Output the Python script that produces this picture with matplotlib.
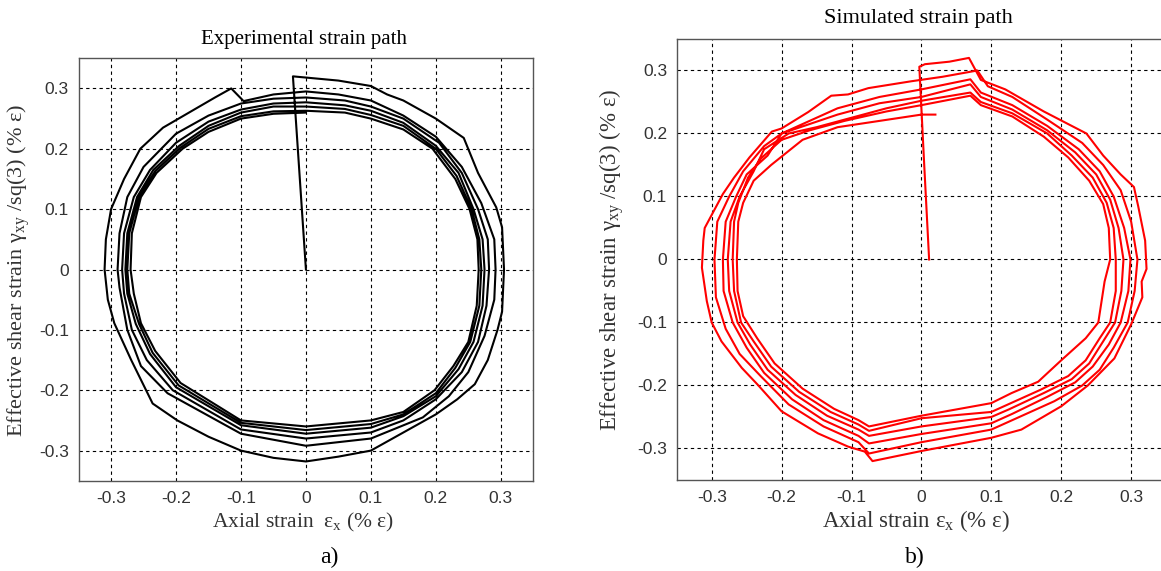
import numpy as np
import matplotlib.pyplot as plt

plt.rcParams['mathtext.fontset'] = 'custom'
plt.rcParams['mathtext.rm'] = 'Liberation Serif'
plt.rcParams['mathtext.it'] = 'Liberation Serif:italic'

# ---- data: experimental path (black) ----
exp_start = [(0.0, 0.0), (-0.01, 0.16), (-0.02, 0.32)]
exp_loop1 = [(-0.02, 0.32), (0.05, 0.313), (0.1, 0.304), (0.125, 0.29), (0.15, 0.28), (0.2, 0.25),
             (0.243, 0.218), (0.265, 0.16), (0.293, 0.103), (0.302, 0.07), (0.305, 0.0), (0.302, -0.07),
             (0.295, -0.1), (0.28, -0.15), (0.26, -0.19), (0.233, -0.215), (0.2, -0.24), (0.15, -0.27),
             (0.1, -0.3), (0.05, -0.31), (0.0, -0.318), (-0.05, -0.312), (-0.1, -0.3), (-0.15, -0.277),
             (-0.198, -0.25), (-0.236, -0.222), (-0.269, -0.15), (-0.295, -0.089), (-0.305, -0.05),
             (-0.31, 0.0), (-0.308, 0.05), (-0.3, 0.1), (-0.28, 0.15), (-0.255, 0.2), (-0.22, 0.235),
             (-0.18, 0.26), (-0.14, 0.285), (-0.115, 0.30), (-0.096, 0.279)]
exp_loop2 = [(-0.05, 0.29), (0.0, 0.295), (0.05, 0.29), (0.1, 0.28), (0.15, 0.255), (0.2, 0.22),
             (0.24, 0.17), (0.27, 0.11), (0.29, 0.05), (0.292, 0.0), (0.29, -0.05), (0.275, -0.11),
             (0.25, -0.17), (0.22, -0.21), (0.18, -0.245), (0.1, -0.28), (0.0, -0.292), (-0.1, -0.272),
             (-0.213, -0.205), (-0.254, -0.16), (-0.275, -0.1), (-0.287, -0.03), (-0.29, 0.0), (-0.287, 0.06),
             (-0.275, 0.12), (-0.25, 0.17), (-0.2, 0.225), (-0.15, 0.255), (-0.1, 0.275)]
exp_loop3 = [(-0.05, 0.283), (0.0, 0.285), (0.06, 0.28), (0.1, 0.27), (0.15, 0.25), (0.205, 0.21),
             (0.24, 0.16), (0.265, 0.1), (0.28, 0.05), (0.282, 0.0), (0.278, -0.06), (0.265, -0.12),
             (0.24, -0.17), (0.2, -0.215), (0.15, -0.25), (0.1, -0.27), (0.0, -0.28), (-0.1, -0.265),
             (-0.205, -0.2), (-0.245, -0.15), (-0.268, -0.1), (-0.28, -0.04), (-0.283, 0.0), (-0.28, 0.06),
             (-0.265, 0.12), (-0.24, 0.165), (-0.2, 0.21), (-0.15, 0.245), (-0.1, 0.265)]
exp_loop4 = [(-0.05, 0.275), (0.0, 0.277), (0.06, 0.272), (0.1, 0.263), (0.15, 0.243), (0.2, 0.205),
             (0.235, 0.16), (0.258, 0.1), (0.272, 0.05), (0.275, 0.0), (0.272, -0.06), (0.258, -0.12),
             (0.235, -0.165), (0.2, -0.21), (0.15, -0.243), (0.1, -0.262), (0.0, -0.272), (-0.1, -0.258),
             (-0.2, -0.195), (-0.24, -0.14), (-0.262, -0.09), (-0.275, -0.04), (-0.278, 0.0), (-0.275, 0.06),
             (-0.26, 0.12), (-0.235, 0.165), (-0.195, 0.205), (-0.15, 0.238), (-0.1, 0.26)]
exp_loop5 = [(-0.05, 0.27), (0.0, 0.27), (0.06, 0.266), (0.1, 0.256), (0.15, 0.238), (0.2, 0.2),
             (0.232, 0.155), (0.255, 0.1), (0.267, 0.05), (0.27, 0.0), (0.267, -0.06), (0.253, -0.12),
             (0.23, -0.163), (0.2, -0.205), (0.15, -0.24), (0.1, -0.256), (0.0, -0.266), (-0.1, -0.254),
             (-0.196, -0.192), (-0.236, -0.138), (-0.257, -0.09), (-0.272, -0.04), (-0.275, 0.0),
             (-0.272, 0.06), (-0.257, 0.12), (-0.232, 0.163), (-0.193, 0.202), (-0.15, 0.233), (-0.1, 0.254)]
exp_loop6 = [(-0.05, 0.262), (0.0, 0.263), (0.06, 0.26), (0.1, 0.25), (0.15, 0.232), (0.195, 0.2),
             (0.23, 0.15), (0.252, 0.1), (0.264, 0.05), (0.266, 0.0), (0.263, -0.06), (0.25, -0.12),
             (0.227, -0.16), (0.198, -0.2), (0.15, -0.236), (0.1, -0.25), (0.0, -0.26), (-0.1, -0.25),
             (-0.193, -0.188), (-0.232, -0.135), (-0.254, -0.089), (-0.265, -0.04), (-0.27, 0.0),
             (-0.268, 0.06), (-0.254, 0.12), (-0.23, 0.16), (-0.19, 0.2), (-0.15, 0.228), (-0.1, 0.25),
             (-0.05, 0.258), (0.0, 0.26)]

# ---- simulated path (red) ----
sim_start = [(0.011, 0.0), (0.004, 0.15), (-0.003, 0.306)]
sim_loop1 = [(-0.003, 0.306), (0.005, 0.31), (0.04, 0.314), (0.068, 0.32), (0.085, 0.285), (0.12, 0.27),
             (0.175, 0.235), (0.236, 0.2), (0.26, 0.165), (0.285, 0.135), (0.304, 0.115), (0.31, 0.085),
             (0.32, 0.03), (0.322, -0.015), (0.315, -0.035), (0.316, -0.06), (0.3, -0.103), (0.288, -0.13),
             (0.276, -0.157), (0.238, -0.2), (0.2, -0.233), (0.143, -0.27), (0.1, -0.283), (0.0, -0.304),
             (-0.07, -0.32), (-0.081, -0.305), (-0.105, -0.297), (-0.148, -0.276), (-0.2, -0.241),
             (-0.234, -0.199), (-0.257, -0.172), (-0.286, -0.13), (-0.3, -0.1), (-0.307, -0.066),
             (-0.314, -0.013), (-0.312, 0.03), (-0.31, 0.05), (-0.284, 0.104), (-0.268, 0.13), (-0.246, 0.162),
             (-0.214, 0.203), (-0.2, 0.208), (-0.162, 0.234), (-0.129, 0.26), (-0.105, 0.262), (-0.076, 0.272),
             (-0.014, 0.283)]
sim_loop2 = [(0.03, 0.29), (0.08, 0.30), (0.095, 0.275), (0.13, 0.258), (0.18, 0.222), (0.23, 0.185),
             (0.26, 0.15), (0.285, 0.11), (0.3, 0.06), (0.309, 0.0), (0.305, -0.05), (0.295, -0.1),
             (0.275, -0.14), (0.255, -0.175), (0.23, -0.2), (0.19, -0.225), (0.14, -0.25), (0.1, -0.27),
             (0.0, -0.29), (-0.075, -0.308), (-0.09, -0.29), (-0.14, -0.265), (-0.19, -0.23), (-0.23, -0.185),
             (-0.26, -0.15), (-0.28, -0.11), (-0.294, -0.06), (-0.296, 0.0), (-0.292, 0.06), (-0.275, 0.1),
             (-0.255, 0.14), (-0.225, 0.18), (-0.2, 0.2), (-0.17, 0.215), (-0.12, 0.24), (-0.06, 0.258),
             (0.0, 0.27)]
sim_loop3 = [(0.07, 0.286), (0.085, 0.265), (0.13, 0.245), (0.18, 0.212), (0.225, 0.175), (0.255, 0.14),
             (0.275, 0.1), (0.29, 0.05), (0.299, 0.0), (0.296, -0.05), (0.285, -0.1), (0.268, -0.135),
             (0.245, -0.17), (0.22, -0.195), (0.18, -0.218), (0.13, -0.245), (0.1, -0.26), (0.0, -0.277),
             (-0.075, -0.292), (-0.09, -0.28), (-0.14, -0.255), (-0.185, -0.222), (-0.225, -0.18),
             (-0.25, -0.14), (-0.27, -0.1), (-0.283, -0.05), (-0.284, 0.0), (-0.28, 0.06), (-0.265, 0.1),
             (-0.25, 0.135), (-0.22, 0.165), (-0.2, 0.2), (-0.16, 0.215), (-0.12, 0.23), (-0.06, 0.248),
             (0.0, 0.258)]
sim_loop4 = [(0.07, 0.278), (0.085, 0.258), (0.13, 0.238), (0.18, 0.205), (0.22, 0.17), (0.25, 0.135),
             (0.27, 0.095), (0.282, 0.05), (0.289, 0.0), (0.286, -0.05), (0.277, -0.1), (0.26, -0.13),
             (0.24, -0.165), (0.215, -0.19), (0.175, -0.212), (0.125, -0.238), (0.1, -0.25), (0.0, -0.265),
             (-0.075, -0.28), (-0.09, -0.27), (-0.135, -0.248), (-0.18, -0.215), (-0.22, -0.175),
             (-0.245, -0.135), (-0.263, -0.1), (-0.275, -0.05), (-0.277, 0.0), (-0.273, 0.06), (-0.26, 0.1),
             (-0.24, 0.14), (-0.225, 0.175), (-0.19, 0.2), (-0.15, 0.21), (-0.1, 0.225), (-0.05, 0.24),
             (0.0, 0.252)]
sim_loop5 = [(0.07, 0.265), (0.085, 0.25), (0.13, 0.232), (0.18, 0.2), (0.215, 0.165), (0.245, 0.13),
             (0.265, 0.09), (0.275, 0.05), (0.278, 0.0), (0.278, -0.05), (0.27, -0.1), (0.255, -0.125),
             (0.235, -0.16), (0.21, -0.185), (0.17, -0.207), (0.12, -0.232), (0.1, -0.242), (0.0, -0.252),
             (-0.075, -0.272), (-0.09, -0.262), (-0.13, -0.242), (-0.175, -0.21), (-0.215, -0.17),
             (-0.24, -0.13), (-0.258, -0.1), (-0.268, -0.05), (-0.27, 0.0), (-0.268, 0.06), (-0.262, 0.09),
             (-0.248, 0.13), (-0.23, 0.16), (-0.2, 0.19), (-0.16, 0.205), (-0.11, 0.22), (-0.05, 0.235),
             (0.0, 0.245)]
sim_loop6 = [(0.07, 0.26), (0.085, 0.245), (0.13, 0.227), (0.175, 0.195), (0.21, 0.162), (0.24, 0.125),
             (0.26, 0.088), (0.268, 0.05), (0.27, 0.0), (0.262, -0.035), (0.253, -0.1), (0.235, -0.125),
             (0.219, -0.141), (0.2, -0.16), (0.167, -0.194), (0.129, -0.212), (0.1, -0.228), (0.0, -0.248),
             (-0.075, -0.265), (-0.09, -0.255), (-0.125, -0.237), (-0.17, -0.205), (-0.21, -0.165),
             (-0.235, -0.125), (-0.255, -0.09), (-0.263, -0.05), (-0.264, 0.0), (-0.262, 0.06),
             (-0.255, 0.09), (-0.24, 0.125), (-0.215, 0.15), (-0.17, 0.19), (-0.12, 0.21), (-0.06, 0.22),
             (0.0, 0.23), (0.02, 0.23)]

tick_vals = [-0.3, -0.2, -0.1, 0, 0.1, 0.2, 0.3]
tick_labels = ['-0.3', '-0.2', '-0.1', '0', '0.1', '0.2', '0.3']

exp_path = np.array(exp_start + exp_loop1 + exp_loop2 + exp_loop3 + exp_loop4 + exp_loop5 + exp_loop6)
sim_path = np.array(sim_start + sim_loop1 + sim_loop2 + sim_loop3 + sim_loop4 + sim_loop5 + sim_loop6)

fig = plt.figure(figsize=(11.61, 5.71), dpi=100)
ax1 = fig.add_axes([0.0677, 0.158, 0.3916, 0.740])
ax2 = fig.add_axes([0.5829, 0.1594, 0.4215, 0.7723])

ax1.plot(exp_path[:, 0], exp_path[:, 1], color='black', lw=1.5)
ax2.plot(sim_path[:, 0], sim_path[:, 1], color='red', lw=1.5)

for ax in (ax1, ax2):
    ax.set_xlim(-0.35, 0.35)
    ax.set_ylim(-0.35, 0.35)
    ax.set_xticks(tick_vals)
    ax.set_xticklabels(tick_labels, family='Liberation Sans', fontsize=12.5, color='#333333')
    ax.set_yticks(tick_vals)
    ax.set_yticklabels(tick_labels, family='Liberation Sans', fontsize=12.5, color='#333333')
    ax.tick_params(direction='in', length=0, pad=7)
    ax.grid(True, color='black', linestyle=(0, (3, 3)), linewidth=0.8)
    for s in ax.spines.values():
        s.set_color('#555555')
        s.set_linewidth(1.0)

serif = 'Liberation Serif'
fig.text(0.2615, 0.93, 'Experimental strain path', ha='center', va='center', family=serif, fontsize=15)
fig.text(0.7914, 0.968, 'Simulated strain path', ha='center', va='center', family=serif, fontsize=16)

fig.text(0.261, 0.077, r'Axial strain  ε$_{\mathrm{x}}$ (% ε)', ha='center', va='baseline',
         family=serif, fontsize=15.5, color='#333333')
fig.text(0.789, 0.077, r'Axial strain ε$_{\mathrm{x}}$ (% ε)', ha='center', va='baseline',
         family=serif, fontsize=16.5, color='#333333')

fig.text(0.0165, 0.527, r'Effective shear strain γ$_{\mathrm{xy}}$ /sq(3) (% ε)', rotation=90,
         ha='center', va='center', family=serif, fontsize=16, color='#333333')
fig.text(0.5264, 0.545, r'Effective shear strain γ$_{\mathrm{xy}}$ /sq(3) (% ε)', rotation=90,
         ha='center', va='center', family=serif, fontsize=16.5, color='#333333')

fig.text(0.284, 0.023, 'a)', ha='center', va='center', family=serif, fontsize=17)
fig.text(0.788, 0.023, 'b)', ha='center', va='center', family=serif, fontsize=17)

fig.savefig('out.png', dpi=100)
